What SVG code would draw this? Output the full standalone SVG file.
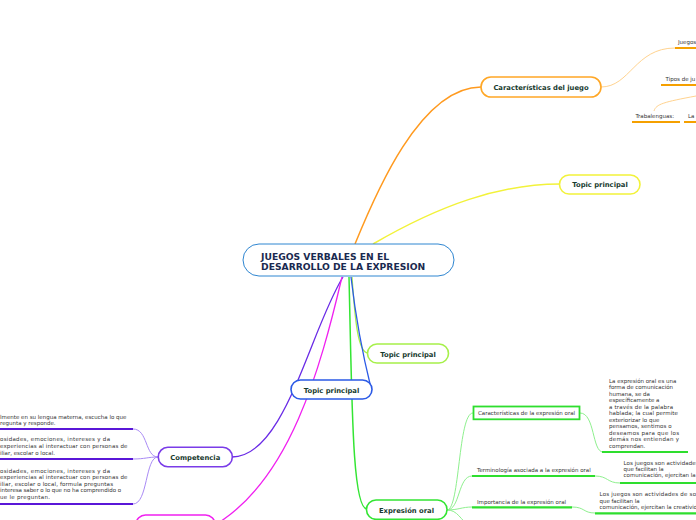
<svg xmlns="http://www.w3.org/2000/svg" width="696" height="520" viewBox="0 0 696 520">
<style>
text{font-family:"DejaVu Sans",Verdana,sans-serif}
.lbl{font-size:6.8px;font-weight:bold;fill:#173a2e;text-anchor:middle}
.sm{font-size:5.5px;fill:#333}
.c{fill:none}
.node{fill:#fff;stroke-width:1.6}
</style>
<rect width="696" height="520" fill="#fff"/>
<g id="connectors" class="c">
  <path d="M355 244 C375 195 420 87 481 87" stroke="#ff9a1f" stroke-width="1.5"/>
  <path d="M601 87 C630 87 635 48 675 48" stroke="#ffd38f" stroke-width="1"/>
  <path d="M654 111 C656 104 664 102 696 96" stroke="#ffd38f" stroke-width="1"/>
  <path d="M373 244 C440 205 500 184 560 184" stroke="#f2f23a" stroke-width="1.5"/>
  <path d="M352 277 C355 320 358 353 368 353" stroke="#a6f04a" stroke-width="1.3"/>
  <path d="M351 277 C356 320 364 360 371 388" stroke="#2b5ae6" stroke-width="1.3"/>
  <path d="M349 277 C352 400 352 509 367 509" stroke="#33e533" stroke-width="1.5"/>
  <path d="M343 277 C310 330 285 457 232 457" stroke="#6a2be6" stroke-width="1.3"/>
  <path d="M342 277 C320 370 290 480 215 525" stroke="#f020f0" stroke-width="1.3"/>
  <path d="M158 457 C145 457 148 429 133 429" stroke="#a98af5" stroke-width="1"/>
  <path d="M158 457 C148 457 145 459 133 459" stroke="#a98af5" stroke-width="1"/>
  <path d="M158 457 C145 457 148 504 133 504" stroke="#a98af5" stroke-width="1"/>
  <path d="M447 510 C460 510 458 413 473 413" stroke="#8ef08e" stroke-width="1"/>
  <path d="M447 510 C460 510 458 476 472 476" stroke="#8ef08e" stroke-width="1"/>
  <path d="M447 510 C458 510 462 507 472 507" stroke="#8ef08e" stroke-width="1"/>
  <path d="M447 510 C458 510 460 520 470 526" stroke="#8ef08e" stroke-width="1"/>
  <path d="M580 413 C595 413 592 452 603 452" stroke="#8ef08e" stroke-width="1"/>
  <path d="M595 476 C608 476 607 483 620 483" stroke="#8ef08e" stroke-width="1"/>
  <path d="M572 507 C585 507 583 513 595 513" stroke="#8ef08e" stroke-width="1"/>
</g>
<g id="central">
  <rect x="243" y="244" width="211" height="32" rx="16" fill="#fff" stroke="#2f86d1" stroke-width="1"/>
  <text x="261" y="259.5" font-size="9.2" font-weight="bold" fill="#1a2a50">JUEGOS VERBALES EN EL</text>
  <text x="261" y="269.7" font-size="9.2" font-weight="bold" fill="#1a2a50">DESARROLLO DE LA EXPRESION</text>
</g>
<g id="caracteristicas-juego">
  <rect class="node" x="481" y="77" width="120" height="20" rx="10" stroke="#ffa726"/>
  <text class="lbl" x="541" y="89.5">Características del juego</text>
</g>
<g id="juegos">
  <text class="sm" x="678" y="44">Juegos</text>
  <line x1="675" y1="48" x2="696" y2="48" stroke="#f5a000" stroke-width="2"/>
</g>
<g id="tipos">
  <text class="sm" x="665.5" y="81">Tipos de ju</text>
  <line x1="661" y1="85" x2="696" y2="85" stroke="#f5a000" stroke-width="2"/>
</g>
<g id="trabalenguas">
  <text class="sm" x="635.5" y="118">Trabalenguas:</text>
  <line x1="632" y1="122" x2="680" y2="122" stroke="#f5a000" stroke-width="2"/>
</g>
<g id="la">
  <text class="sm" x="688" y="118">La</text>
  <line x1="684" y1="122" x2="696" y2="122" stroke="#f5a000" stroke-width="2"/>
</g>
<g id="topic-yellow">
  <rect class="node" x="559.5" y="175" width="80.5" height="19" rx="9.5" stroke="#f2f23a"/>
  <text class="lbl" x="600" y="187.3">Topic principal</text>
</g>
<g id="topic-lime">
  <rect class="node" x="367.5" y="344" width="81" height="19" rx="9.5" stroke="#a6f04a"/>
  <text class="lbl" x="408" y="356.5">Topic principal</text>
</g>
<g id="topic-blue">
  <rect class="node" x="291" y="380" width="81" height="19" rx="9.5" stroke="#2b5ae6"/>
  <text class="lbl" x="331.5" y="392.5">Topic principal</text>
</g>
<g id="competencia">
  <rect class="node" x="158.3" y="447.3" width="74" height="19.4" rx="9.5" stroke="#7a3ce8"/>
  <text class="lbl" x="195.3" y="459.8">Competencia</text>
</g>
<g id="comp-1">
  <text class="sm" x="0" y="418.5">lmente en su lengua materna, escucha lo que</text>
  <text class="sm" x="0" y="424.5">regunta y responde.</text>
  <line x1="0" y1="429" x2="133" y2="429" stroke="#5a17d8" stroke-width="2"/>
</g>
<g id="comp-2">
  <text class="sm" x="0" y="441" textLength="110" lengthAdjust="spacing">osidades, emociones, intereses y da</text>
  <text class="sm" x="0" y="447.8" textLength="127.5" lengthAdjust="spacing">experiencias al interactuar con personas de</text>
  <text class="sm" x="0" y="454.5">iliar, escolar o local.</text>
  <line x1="0" y1="459" x2="133" y2="459" stroke="#5a17d8" stroke-width="2"/>
</g>
<g id="comp-3">
  <text class="sm" x="0" y="473" textLength="110" lengthAdjust="spacing">osidades, emociones, intereses y da</text>
  <text class="sm" x="0" y="479.3" textLength="127.5" lengthAdjust="spacing">experiencias al interactuar con personas de</text>
  <text class="sm" x="0" y="485.6" textLength="113" lengthAdjust="spacing">iliar, escolar o local, formula preguntas</text>
  <text class="sm" x="0" y="492.3" textLength="121" lengthAdjust="spacing">interesa saber o lo que no ha comprendido o</text>
  <text class="sm" x="0" y="498.8" textLength="50" lengthAdjust="spacing">ue le preguntan.</text>
  <line x1="0" y1="504" x2="133" y2="504" stroke="#5a17d8" stroke-width="2"/>
</g>
<g id="magenta-node">
  <rect class="node" x="136" y="515" width="79" height="19" rx="9.5" stroke="#f020f0"/>
</g>
<g id="expresion-oral">
  <rect class="node" x="366.5" y="500" width="80.5" height="19.3" rx="9.5" stroke="#33e533"/>
  <text class="lbl" x="406.5" y="513">Expresión oral</text>
</g>
<g id="caracteristicas-expresion">
  <rect x="473.5" y="406.5" width="106" height="12.8" fill="#fff" stroke="#2ede2e" stroke-width="1.8"/>
  <text class="sm" x="478" y="414.8">Características de la expresión oral</text>
</g>
<g id="parrafo-expresion">
  <text class="sm" x="609" y="382.5">La expresión oral es una</text>
  <text class="sm" x="609" y="389" textLength="64" lengthAdjust="spacing">forma de comunicación</text>
  <text class="sm" x="609" y="395.5">humana, se da</text>
  <text class="sm" x="609" y="402">específicamente a</text>
  <text class="sm" x="609" y="408.5" textLength="64" lengthAdjust="spacing">a través de la palabra</text>
  <text class="sm" x="609" y="415" textLength="69" lengthAdjust="spacing">hablada; la cual permite</text>
  <text class="sm" x="609" y="421.5">exteriorizar lo que</text>
  <text class="sm" x="609" y="428" textLength="62.5" lengthAdjust="spacing">pensamos, sentimos o</text>
  <text class="sm" x="609" y="434.5" textLength="70" lengthAdjust="spacing">deseamos para que los</text>
  <text class="sm" x="609" y="441" textLength="70" lengthAdjust="spacing">demás nos entiendan y</text>
  <text class="sm" x="609" y="447.5">comprendan.</text>
  <line x1="602" y1="452" x2="688" y2="452" stroke="#2ede2e" stroke-width="2.2"/>
</g>
<g id="terminologia">
  <text class="sm" x="477" y="472">Terminología asociada a la expresión oral</text>
  <line x1="472" y1="476" x2="595" y2="476" stroke="#2ede2e" stroke-width="2.2"/>
</g>
<g id="parrafo-terminologia">
  <text class="sm" x="623.5" y="465" textLength="75" lengthAdjust="spacing">Los juegos son actividades</text>
  <text class="sm" x="623.5" y="471" textLength="40" lengthAdjust="spacing">que facilitan la</text>
  <text class="sm" x="623.5" y="477.3">comunicación, ejercitan la</text>
  <line x1="620" y1="483" x2="696" y2="483" stroke="#2ede2e" stroke-width="2.2"/>
</g>
<g id="importancia">
  <text class="sm" x="477" y="503.5">Importancia de la expresión oral</text>
  <line x1="472" y1="507.3" x2="572" y2="507.3" stroke="#2ede2e" stroke-width="2.2"/>
</g>
<g id="parrafo-importancia">
  <text class="sm" x="599.5" y="495.5" textLength="96.5" lengthAdjust="spacing">Los juegos son actividades de so</text>
  <text class="sm" x="599.5" y="502.5" textLength="40" lengthAdjust="spacing">que facilitan la</text>
  <text class="sm" x="599.5" y="509">comunicación, ejercitan la creativid</text>
  <line x1="595" y1="513.3" x2="696" y2="513.3" stroke="#2ede2e" stroke-width="2.2"/>
</g>
</svg>
